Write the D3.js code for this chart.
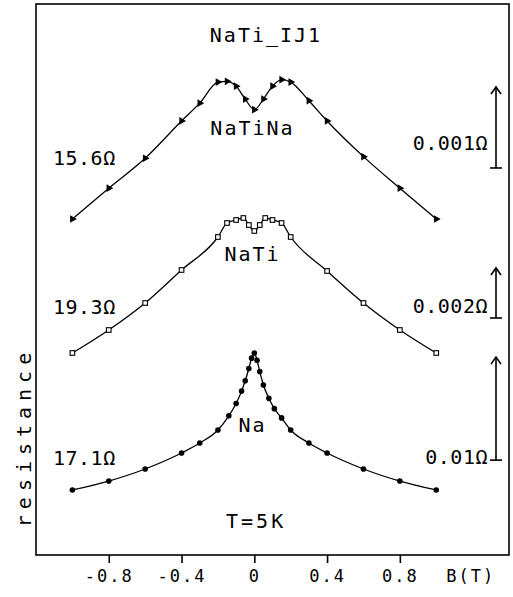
<!DOCTYPE html>
<html>
<head>
<meta charset="utf-8">
<script src="https://cdn.jsdelivr.net/npm/d3@7"></script>
<style>
  body { margin: 0; background: #fff; }
  svg text { font-family: "DejaVu Sans Mono", monospace; fill: #000; }
</style>
</head>
<body>
<div id="chart"></div>
<script>
// field values (T) and resistance change above the B = ±1 T level (mΩ)
const bNaTiNa = [-1, -0.8, -0.6, -0.4, -0.3, -0.2, -0.15, -0.1, -0.05, 0, 0.05, 0.1, 0.15, 0.2, 0.3, 0.4, 0.6, 0.8, 1];
const rNaTiNa = [0, 0.38, 0.75, 1.21, 1.43, 1.69, 1.70, 1.64, 1.48, 1.35, 1.48, 1.64, 1.72, 1.69, 1.46, 1.21, 0.77, 0.38, 0];

const bNaTi = [-1, -0.8, -0.6, -0.4, -0.2, -0.15, -0.1, -0.06, -0.03, 0, 0.03, 0.06, 0.1, 0.15, 0.2, 0.4, 0.6, 0.8, 1];
const rNaTi = [0, 0.92, 2.0, 3.32, 4.64, 5.2, 5.32, 5.4, 5.12, 4.88, 5.12, 5.4, 5.32, 5.2, 4.64, 3.28, 2.0, 0.92, 0];

const bNa = [-1, -0.8, -0.6, -0.4, -0.3, -0.2, -0.14, -0.1, -0.07, -0.05, -0.03, -0.015, 0, 0.015, 0.03, 0.05, 0.08, 0.11, 0.15, 0.2, 0.3, 0.4, 0.6, 0.8, 1];
const rNa = [0, 0.87, 2.04, 3.59, 4.56, 5.83, 7.2, 8.4, 9.6, 10.6, 11.8, 12.8, 13.3, 12.6, 11.5, 10.2, 8.9, 7.9, 7.0, 5.83, 4.56, 3.59, 2.04, 0.87, 0];

const sampleNames = ["NaTiNa", "NaTi", "Na"];
const baseResistance = ["15.6Ω", "19.3Ω", "17.1Ω"];
const barLengths = [1, 2, 10]; // mΩ
const xTicks = [-0.8, -0.4, 0, 0.4, 0.8];

const W = 513, H = 597;
const frame = { left: 36, right: 509, top: 4, bottom: 555 };

const svg = d3.select("#chart").append("svg")
    .attr("width", W)
    .attr("height", H);

const x = d3.scaleLinear()
    .domain([-1.2, 1.4])
    .range([frame.left, frame.right]);

// each trace gets its own offset / magnification
const panels = [
    { b: bNaTiNa, r: rNaTiNa, range: [219, 138], domainTop: 1, marker: "triangle",
      nameY: 135, baseY: 165, barLabelY: 150, barStart: 0.63 },
    { b: bNaTi, r: rNaTi, range: [353, 303], domainTop: 2, marker: "square",
      nameY: 261, baseY: 314, barLabelY: 313, barStart: 1.4 },
    { b: bNa, r: rNa, range: [490, 387], domainTop: 10, marker: "circle",
      nameY: 432, baseY: 465, barLabelY: 464, barStart: 2.9 }
];

// frame
svg.append("rect")
    .attr("x", frame.left)
    .attr("y", frame.top)
    .attr("width", frame.right - frame.left)
    .attr("height", frame.bottom - frame.top)
    .attr("fill", "none")
    .attr("stroke", "#000")
    .attr("stroke-width", 1.6);

// x axis
const xAxis = svg.append("g")
    .attr("transform", `translate(0,${frame.bottom})`)
    .call(d3.axisBottom(x)
        .tickValues(xTicks)
        .tickSize(8)
        .tickPadding(7)
        .tickFormat(d => d === 0 ? "0" : d3.format(".1f")(d).replace("−", "-")));
xAxis.select(".domain").remove();
xAxis.selectAll("line").attr("stroke-width", 1.6);
xAxis.selectAll("text")
    .style("font-size", "17px")
    .style("letter-spacing", "2px")
    .style("font-family", "'DejaVu Sans Mono', monospace");

svg.append("text")
    .attr("x", x(1.19))
    .attr("y", frame.bottom + 27)
    .attr("text-anchor", "middle")
    .style("font-size", "17px")
    .style("letter-spacing", "2px")
    .text("B(T)");

// y label
svg.append("text")
    .attr("transform", "translate(31,437) rotate(-90)")
    .attr("text-anchor", "middle")
    .style("font-size", "20px")
    .style("letter-spacing", "6px")
    .text("resistance");

// title and temperature
svg.append("text")
    .attr("x", 266)
    .attr("y", 42)
    .attr("text-anchor", "middle")
    .style("font-size", "20px")
    .style("letter-spacing", "2px")
    .text("NaTi_IJ1");

svg.append("text")
    .attr("x", x(0.01))
    .attr("y", 528)
    .attr("text-anchor", "middle")
    .style("font-size", "20px")
    .style("letter-spacing", "3px")
    .text("T=5K");

const line = d3.line().curve(d3.curveMonotoneX);
const barX = 496;

panels.forEach((p, i) => {
    const y = d3.scaleLinear().domain([0, p.domainTop]).range(p.range);
    const pts = p.b.map((b, k) => [x(b), y(p.r[k])]);

    svg.append("path")
        .attr("d", line(pts))
        .attr("fill", "none")
        .attr("stroke", "#000")
        .attr("stroke-width", 1.3);

    const g = svg.append("g");
    if (p.marker === "circle") {
        g.selectAll("circle").data(pts).join("circle")
            .attr("cx", d => d[0]).attr("cy", d => d[1])
            .attr("r", 2.8).attr("fill", "#000");
    } else if (p.marker === "square") {
        g.selectAll("rect").data(pts).join("rect")
            .attr("x", d => d[0] - 2.3).attr("y", d => d[1] - 2.3)
            .attr("width", 4.6).attr("height", 4.6)
            .attr("fill", "#fff").attr("stroke", "#000").attr("stroke-width", 1.1);
    } else {
        const tri = d3.symbol().type(d3.symbolTriangle).size(26);
        g.selectAll("path").data(pts).join("path")
            .attr("d", tri)
            .attr("transform", d => `translate(${d[0]},${d[1]}) rotate(90)`)
            .attr("fill", "#000");
    }

    // sample name
    svg.append("text")
        .attr("x", x(-0.01))
        .attr("y", p.nameY)
        .attr("text-anchor", "middle")
        .style("font-size", "20px")
        .style("letter-spacing", "2px")
        .text(sampleNames[i]);

    // base resistance
    svg.append("text")
        .attr("x", 53)
        .attr("y", p.baseY)
        .style("font-size", "20px")
        .style("letter-spacing", "0.5px")
        .text(baseResistance[i]);

    // scale bar
    const y0 = y(p.barStart), y1 = y(p.barStart + barLengths[i]);
    const bar = svg.append("g")
        .attr("stroke", "#000")
        .attr("stroke-width", 1.6)
        .attr("fill", "none");
    bar.append("line").attr("x1", barX).attr("x2", barX).attr("y1", y0).attr("y2", y1);
    bar.append("line").attr("x1", barX - 6).attr("x2", barX + 6).attr("y1", y0).attr("y2", y0);
    bar.append("path").attr("d", `M${barX - 5},${y1 + 7}L${barX},${y1}L${barX + 5},${y1 + 7}`);

    svg.append("text")
        .attr("x", barX - 8)
        .attr("y", p.barLabelY)
        .attr("text-anchor", "end")
        .style("font-size", "20px")
        .style("letter-spacing", "0.5px")
        .text((barLengths[i] / 1000) + "Ω");
});
</script>
</body>
</html>
